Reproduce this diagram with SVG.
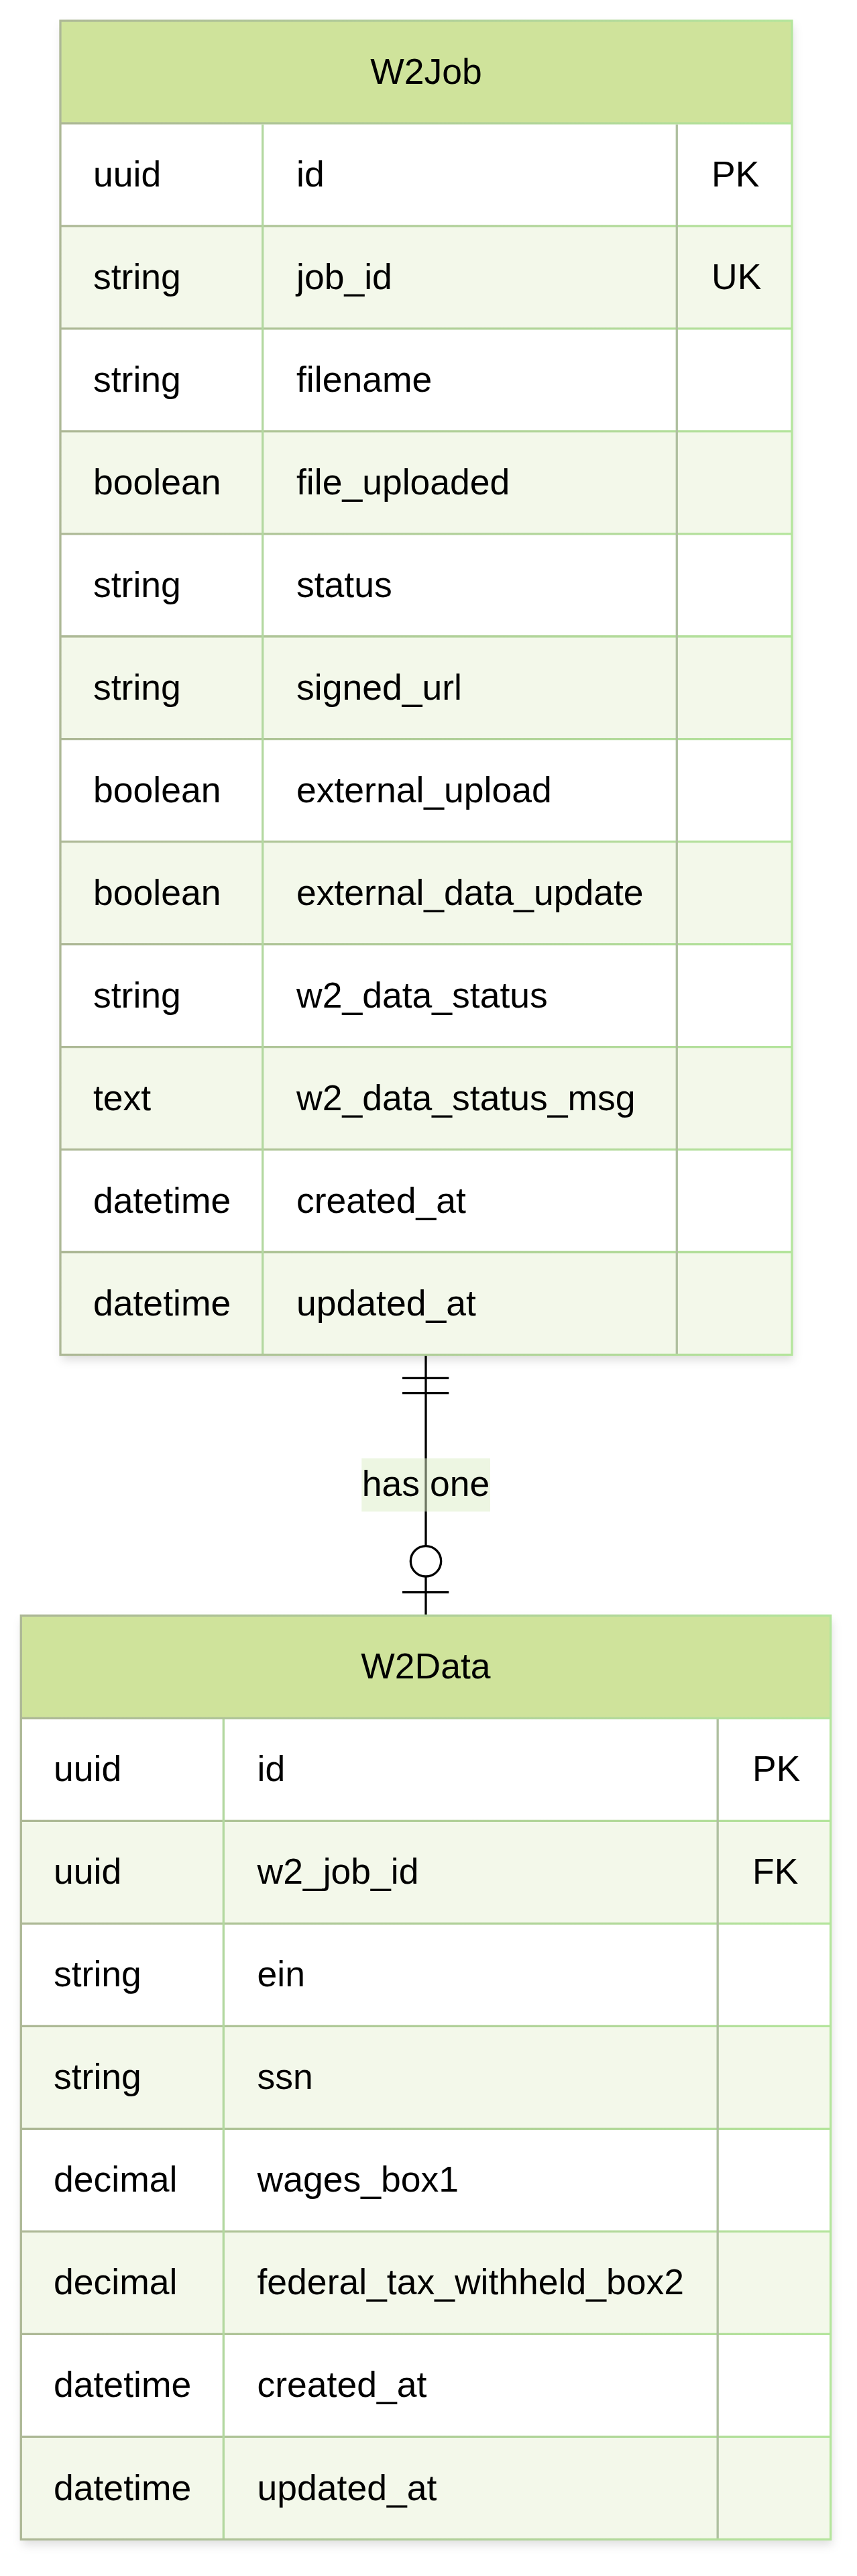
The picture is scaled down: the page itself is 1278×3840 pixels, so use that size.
<svg xmlns="http://www.w3.org/2000/svg" width="1278" height="3840" viewBox="0 0 1278 3840">
<style>
text{font-family:"Liberation Sans",Arial,sans-serif;font-size:53.5px;fill:#000}
.hdr{fill:#cfe39b}
.odd{fill:#ffffff}
.alt{fill:#f3f8ea}
.c1{stroke:#b3d8a0;stroke-width:3.3}
.c2{stroke:#afc0a0;stroke-width:3.3}
.conn{stroke:#000;stroke-width:3.3;fill:none}
.mid{text-anchor:middle}
</style>
<defs>
<filter id="sh" x="-10%" y="-10%" width="120%" height="120%">
<feDropShadow dx="2" dy="8" stdDeviation="7" flood-color="#000" flood-opacity="0.13"/>
</filter>
<linearGradient id="g1" gradientUnits="userSpaceOnUse" x1="90" y1="0" x2="1181" y2="0">
<stop offset="0" stop-color="#adb896"/><stop offset="1" stop-color="#b4e59c"/>
</linearGradient>
<linearGradient id="g2" gradientUnits="userSpaceOnUse" x1="31" y1="0" x2="1239" y2="0">
<stop offset="0" stop-color="#adb896"/><stop offset="1" stop-color="#b4e59c"/>
</linearGradient>
</defs>

<g id="connectors">
<line class="conn" x1="635" y1="2021" x2="635" y2="2407"/>
<line class="conn" x1="600" y1="2054.3" x2="669.3" y2="2054.3"/>
<line class="conn" x1="600" y1="2076.7" x2="669.3" y2="2076.7"/>
<circle class="conn" cx="635" cy="2327.3" r="22.7" style="fill:#fff"/>
<line class="conn" x1="600" y1="2373.7" x2="669.3" y2="2373.7"/>
<rect x="539.3" y="2174" width="191.7" height="79.3" fill="#dcedc5" opacity="0.5"/>
<text class="mid" x="635" y="2230">has one</text>
</g>

<g id="W2Job">
<rect x="90" y="31" width="1091" height="1988.5" fill="#fff" filter="url(#sh)"/>
<rect class="hdr" x="90" y="31" width="1091" height="152.96"/>
<rect class="odd" x="90" y="183.96" width="1091" height="152.96"/>
<rect class="alt" x="90" y="336.92" width="1091" height="152.96"/>
<rect class="odd" x="90" y="489.88" width="1091" height="152.96"/>
<rect class="alt" x="90" y="642.84" width="1091" height="152.96"/>
<rect class="odd" x="90" y="795.8" width="1091" height="152.96"/>
<rect class="alt" x="90" y="948.76" width="1091" height="152.96"/>
<rect class="odd" x="90" y="1101.72" width="1091" height="152.96"/>
<rect class="alt" x="90" y="1254.68" width="1091" height="152.96"/>
<rect class="odd" x="90" y="1407.64" width="1091" height="152.96"/>
<rect class="alt" x="90" y="1560.6" width="1091" height="152.96"/>
<rect class="odd" x="90" y="1713.56" width="1091" height="152.96"/>
<rect class="alt" x="90" y="1866.52" width="1091" height="152.96"/>
<g stroke="url(#g1)" stroke-width="3.3">
<line x1="90" y1="183.96" x2="1181" y2="183.96"/>
<line x1="90" y1="336.92" x2="1181" y2="336.92"/>
<line x1="90" y1="489.88" x2="1181" y2="489.88"/>
<line x1="90" y1="642.84" x2="1181" y2="642.84"/>
<line x1="90" y1="795.8" x2="1181" y2="795.8"/>
<line x1="90" y1="948.76" x2="1181" y2="948.76"/>
<line x1="90" y1="1101.72" x2="1181" y2="1101.72"/>
<line x1="90" y1="1254.68" x2="1181" y2="1254.68"/>
<line x1="90" y1="1407.64" x2="1181" y2="1407.64"/>
<line x1="90" y1="1560.6" x2="1181" y2="1560.6"/>
<line x1="90" y1="1713.56" x2="1181" y2="1713.56"/>
<line x1="90" y1="1866.52" x2="1181" y2="1866.52"/>
</g>
<line class="c1" x1="391.7" y1="185.5" x2="391.7" y2="2018"/>
<line class="c2" x1="1009.3" y1="185.5" x2="1009.3" y2="2018"/>
<rect x="90" y="31" width="1091" height="1988.5" fill="none" stroke="url(#g1)" stroke-width="3.3"/>
<text class="mid" x="635.5" y="125">W2Job</text>
<text x="139" y="278">uuid</text><text x="442" y="278">id</text><text x="1061" y="278">PK</text>
<text x="139" y="430.9">string</text><text x="442" y="430.9">job_id</text><text x="1061" y="430.9">UK</text>
<text x="139" y="583.9">string</text><text x="442" y="583.9">filename</text>
<text x="139" y="736.8">boolean</text><text x="442" y="736.8">file_uploaded</text>
<text x="139" y="889.8">string</text><text x="442" y="889.8">status</text>
<text x="139" y="1042.8">string</text><text x="442" y="1042.8">signed_url</text>
<text x="139" y="1195.7">boolean</text><text x="442" y="1195.7">external_upload</text>
<text x="139" y="1348.7">boolean</text><text x="442" y="1348.7">external_data_update</text>
<text x="139" y="1501.6">string</text><text x="442" y="1501.6">w2_data_status</text>
<text x="139" y="1654.6">text</text><text x="442" y="1654.6">w2_data_status_msg</text>
<text x="139" y="1807.6">datetime</text><text x="442" y="1807.6">created_at</text>
<text x="139" y="1960.5">datetime</text><text x="442" y="1960.5">updated_at</text>
</g>

<g id="W2Data">
<rect x="31.3" y="2408.3" width="1207.4" height="1377.2" fill="#fff" filter="url(#sh)"/>
<rect class="hdr" x="31.3" y="2408.3" width="1207.4" height="153.02"/>
<rect class="odd" x="31.3" y="2561.32" width="1207.4" height="153.02"/>
<rect class="alt" x="31.3" y="2714.34" width="1207.4" height="153.02"/>
<rect class="odd" x="31.3" y="2867.36" width="1207.4" height="153.02"/>
<rect class="alt" x="31.3" y="3020.38" width="1207.4" height="153.02"/>
<rect class="odd" x="31.3" y="3173.4" width="1207.4" height="153.02"/>
<rect class="alt" x="31.3" y="3326.42" width="1207.4" height="153.02"/>
<rect class="odd" x="31.3" y="3479.44" width="1207.4" height="153.02"/>
<rect class="alt" x="31.3" y="3632.46" width="1207.4" height="153.02"/>
<g stroke="url(#g2)" stroke-width="3.3">
<line x1="31.3" y1="2561.32" x2="1238.7" y2="2561.32"/>
<line x1="31.3" y1="2714.34" x2="1238.7" y2="2714.34"/>
<line x1="31.3" y1="2867.36" x2="1238.7" y2="2867.36"/>
<line x1="31.3" y1="3020.38" x2="1238.7" y2="3020.38"/>
<line x1="31.3" y1="3173.4" x2="1238.7" y2="3173.4"/>
<line x1="31.3" y1="3326.42" x2="1238.7" y2="3326.42"/>
<line x1="31.3" y1="3479.44" x2="1238.7" y2="3479.44"/>
<line x1="31.3" y1="3632.46" x2="1238.7" y2="3632.46"/>
</g>
<line class="c1" x1="333.3" y1="2563" x2="333.3" y2="3784"/>
<line class="c2" x1="1070.2" y1="2563" x2="1070.2" y2="3784"/>
<rect x="31.3" y="2408.3" width="1207.4" height="1377.2" fill="none" stroke="url(#g2)" stroke-width="3.3"/>
<text class="mid" x="635" y="2502.3">W2Data</text>
<text x="80" y="2655.3">uuid</text><text x="383.5" y="2655.3">id</text><text x="1122" y="2655.3">PK</text>
<text x="80" y="2808.3">uuid</text><text x="383.5" y="2808.3">w2_job_id</text><text x="1122" y="2808.3">FK</text>
<text x="80" y="2961.4">string</text><text x="383.5" y="2961.4">ein</text>
<text x="80" y="3114.4">string</text><text x="383.5" y="3114.4">ssn</text>
<text x="80" y="3267.4">decimal</text><text x="383.5" y="3267.4">wages_box1</text>
<text x="80" y="3420.4">decimal</text><text x="383.5" y="3420.4">federal_tax_withheld_box2</text>
<text x="80" y="3573.4">datetime</text><text x="383.5" y="3573.4">created_at</text>
<text x="80" y="3726.5">datetime</text><text x="383.5" y="3726.5">updated_at</text>
</g>
</svg>
